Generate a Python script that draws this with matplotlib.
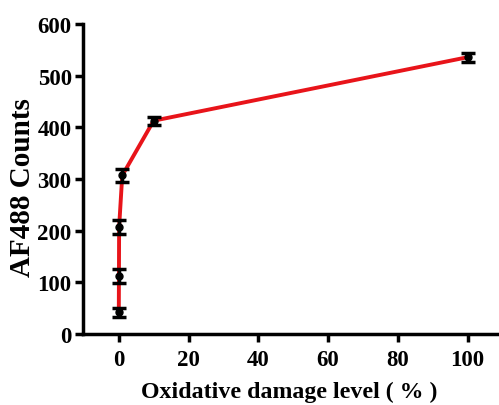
import matplotlib.pyplot as plt
import numpy as np

plt.rcParams['font.family'] = ['Liberation Serif', 'DejaVu Serif']
plt.rcParams['font.weight'] = 'bold'

# oxidative damage level (%) and AF488 counts
damage = [0.01, 0.05, 0.1, 1, 10, 100]
counts = [42, 112, 207, 307, 413, 536]
err = [9, 14, 14, 12, 8, 9]

fig = plt.figure(figsize=(4.99, 4.06), dpi=100)
ax = fig.add_axes([0.166, 0.175, 0.834, 0.763])

ax.plot(damage, counts, "-", color="#e8141a", lw=2.8, zorder=2)
ax.errorbar(damage, counts, yerr=err, fmt="o", color="black", ms=5,
            ecolor="black", elinewidth=2.5, capsize=5, capthick=2.5, zorder=3)

ax.set_xlim(-10.3, 109)
ax.set_ylim(0, 600)
ax.set_xticks([0, 20, 40, 60, 80, 100])
ax.set_yticks([0, 100, 200, 300, 400, 500, 600])

for side in ["top", "right"]:
    ax.spines[side].set_visible(False)
for side in ["left", "bottom"]:
    ax.spines[side].set_linewidth(2.5)
ax.tick_params(width=2.5, length=6, labelsize=16.5)
ax.tick_params(axis="y", pad=2)
ax.tick_params(axis="x", pad=5)

ax.set_xlabel("Oxidative damage level ( % )", fontsize=17.2, fontweight="bold")
ax.set_ylabel("AF488 Counts", fontsize=21, fontweight="bold")
# label positions in axes coords
ax.xaxis.set_label_coords(0.497, -0.152)
ax.yaxis.set_label_coords(-0.112, 0.475)

plt.savefig("out.png", dpi=100)
